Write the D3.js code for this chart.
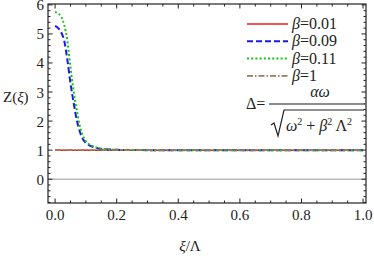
<!DOCTYPE html>
<html>
<head>
<meta charset="utf-8">
<script src="https://cdn.jsdelivr.net/npm/d3@7"></script>
<style>
  body { margin: 0; background: white; font-family: "Times New Roman", "Liberation Serif", serif; }
  svg text { font-family: "Times New Roman", "Liberation Serif", serif !important; }
</style>
</head>
<body>
<svg width="374" height="258"></svg>
<script>
const svg = d3.select('svg');
const FONT = 'Times New Roman, Liberation Serif, serif';

// data
const xi = [0, 0.01, 0.02, 0.03, 0.04, 0.05, 0.06, 0.07, 0.08, 0.09, 0.10, 0.12, 0.14, 0.16, 0.18, 0.20, 0.25, 0.30, 0.40, 0.60, 0.80, 1.0];
const zBeta001 = xi.map(() => 1);
const zBeta009 = [5.28, 5.2, 5.05, 4.75, 4.1, 3.3, 2.65, 2.05, 1.65, 1.38, 1.25, 1.12, 1.06, 1.03, 1.02, 1.01, 1.005, 1, 1, 1, 1, 1];
const zBeta011 = [5.76, 5.7, 5.59, 5.3, 4.75, 3.85, 3.05, 2.4, 1.85, 1.5, 1.3, 1.15, 1.07, 1.04, 1.02, 1.01, 1.005, 1, 1, 1, 1, 1];
const zBeta1 = xi.map(() => 1);

const seriesNames = ['0.01', '0.09', '0.11', '1'];
const seriesValues = [zBeta001, zBeta009, zBeta011, zBeta1];
const seriesColors = ['#ee1c1c', '#1a1ae6', '#17c217', '#a0785a'];
const seriesDash = [null, '6,3', '2,2.2', '6,2,1.5,2'];
const seriesWidth = [1.5, 2, 2, 1.6];

const xTicks = [0, 0.2, 0.4, 0.6, 0.8, 1.0];
const yTicks = [0, 1, 2, 3, 4, 5, 6];

const x = d3.scaleLinear().domain([-0.023, 1.0095]).range([48, 366]);
const y = d3.scaleLinear().domain([-0.82, 6.03]).range([203, 4]);

const addText = (px, py, size) => svg.append('text')
  .attr('x', px).attr('y', py)
  .attr('font-family', FONT).attr('font-size', size).attr('fill', '#222');

const plot = svg.append('g');

// zero line
plot.append('line')
  .attr('x1', x.range()[0]).attr('x2', x.range()[1])
  .attr('y1', y(0)).attr('y2', y(0))
  .attr('stroke', '#999').attr('stroke-width', 1);

const line = d3.line()
  .x((d, i) => x(xi[i]))
  .y(d => y(d))
  .curve(d3.curveMonotoneX);

seriesValues.forEach((vals, i) => {
  plot.append('path')
    .attr('d', line(vals))
    .attr('fill', 'none')
    .attr('stroke', seriesColors[i])
    .attr('stroke-width', seriesWidth[i])
    .attr('stroke-dasharray', seriesDash[i]);
});

// frame with inward ticks on all four sides
const frame = svg.append('g');
const [x0, x1] = x.range();
const [y0, y1] = y.range();
frame.append('rect')
  .attr('x', x0).attr('y', y1)
  .attr('width', x1 - x0).attr('height', y0 - y1)
  .attr('fill', 'none').attr('stroke', '#222').attr('stroke-width', 1.2);

const xMinor = d3.range(0, 1.0001, 0.05);
const yMinor = d3.range(-0.8, 6.01, 0.2);
xMinor.forEach(v => {
  const major = Math.abs(v * 5 - Math.round(v * 5)) < 1e-6;
  const len = major ? 4.5 : 2.5;
  frame.append('line').attr('x1', x(v)).attr('x2', x(v)).attr('y1', y0).attr('y2', y0 - len)
    .attr('stroke', '#222').attr('stroke-width', 1);
  frame.append('line').attr('x1', x(v)).attr('x2', x(v)).attr('y1', y1).attr('y2', y1 + len)
    .attr('stroke', '#222').attr('stroke-width', 1);
});
yMinor.forEach(v => {
  const major = Math.abs(v - Math.round(v)) < 1e-6;
  const len = major ? 4.5 : 2.5;
  frame.append('line').attr('y1', y(v)).attr('y2', y(v)).attr('x1', x0).attr('x2', x0 + len)
    .attr('stroke', '#222').attr('stroke-width', 1);
  frame.append('line').attr('y1', y(v)).attr('y2', y(v)).attr('x1', x1).attr('x2', x1 - len)
    .attr('stroke', '#222').attr('stroke-width', 1);
});

// tick labels
xTicks.forEach(d => {
  addText(x(d), 220, 15).attr('text-anchor', 'middle').text(d.toFixed(1));
});
yTicks.forEach(d => {
  addText(44, y(d) + 5.5, 15).attr('text-anchor', 'end').text(d);
});

// axis labels
const yl = addText(3, 102, 15);
yl.append('tspan').text('Z(');
yl.append('tspan').attr('font-style', 'italic').text('ξ');
yl.append('tspan').text(')');

const xl = addText(190, 251, 15).attr('text-anchor', 'middle');
xl.append('tspan').attr('font-style', 'italic').text('ξ');
xl.append('tspan').text('/Λ');

// legend
seriesNames.forEach((name, i) => {
  const ly = 24 + i * 17.3;
  svg.append('line')
    .attr('x1', 247).attr('x2', 288).attr('y1', ly).attr('y2', ly)
    .attr('stroke', seriesColors[i]).attr('stroke-width', seriesWidth[i])
    .attr('stroke-dasharray', seriesDash[i]);
  const t = addText(292, ly + 5, 16);
  t.append('tspan').attr('font-style', 'italic').text('β');
  t.append('tspan').text('=' + name);
});

// formula
addText(246, 109, 16).text('Δ=');
addText(320, 97, 16).attr('text-anchor', 'middle').attr('font-style', 'italic').text('αω');
svg.append('line').attr('x1', 269).attr('x2', 366).attr('y1', 104).attr('y2', 104)
  .attr('stroke', '#666').attr('stroke-width', 1.5);
svg.append('path')
  .attr('d', 'M271,125 L274,123 L278,136 L284,110 L364,110')
  .attr('fill', 'none').attr('stroke', '#222').attr('stroke-width', 1.2);
const den = addText(286, 131, 16);
den.append('tspan').attr('font-style', 'italic').text('ω');
den.append('tspan').attr('font-size', 10).attr('dy', -6).text('2');
den.append('tspan').attr('dy', 6).text(' + ');
den.append('tspan').attr('font-style', 'italic').text('β');
den.append('tspan').attr('font-size', 10).attr('dy', -6).text('2');
den.append('tspan').attr('dy', 6).text(' Λ');
den.append('tspan').attr('font-size', 10).attr('dy', -6).text('2');
</script>
</body>
</html>
